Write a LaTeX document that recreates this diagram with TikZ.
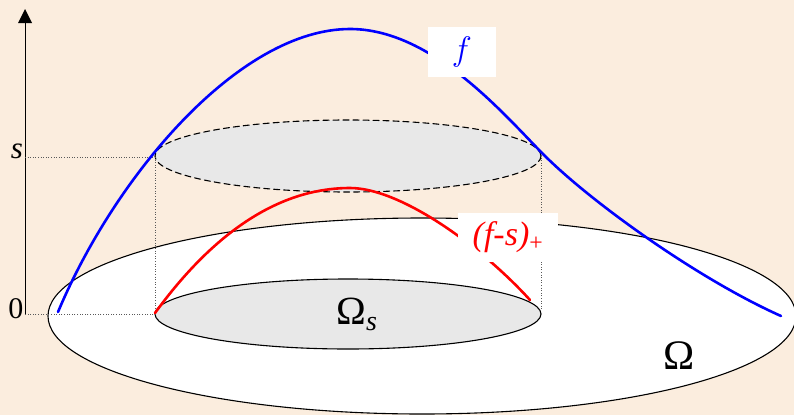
\RequirePackage{fix-cm}
\documentclass[tikz,border=0pt]{standalone}
\usepackage{fontspec}
\setmainfont{Liberation Serif}
\definecolor{paper}{RGB}{251,237,222}
\definecolor{disc}{RGB}{232,232,232}

\begin{document}
\begin{tikzpicture}[
    x=1pt,y=-1pt,
    line cap=round,
    line join=round,
    guide/.style={black!65,line width=1pt,line cap=butt,dash pattern=on 1pt off 1.6pt},
    rim/.style={black,line width=1.1pt},
    graph/.style={line width=2.6pt},
    tag/.style={fill=white,inner sep=0pt},
]
\useasboundingbox (0,0) rectangle (794,415);
\fill[paper] (0,0) rectangle (794,415);
% domain
\draw[rim,fill=white] (422,316) ellipse [x radius=374,y radius=98];
\draw[rim,fill=disc] (348,314) ellipse [x radius=193,y radius=35];
\draw[rim,fill=disc,dash pattern=on 6pt off 4pt] (348,156) ellipse [x radius=193,y radius=36];
% axes
\coordinate (o) at (25,314);
\coordinate (top) at (25,9);
\coordinate (sy) at (25,157);
\draw[line width=1pt] (o) -- (25,22);
\fill (top) -- (18,23) -- (32,23) -- cycle;
\node[font=\fontsize{30}{30}\selectfont] (zero) at (16,309) {0};
\node[font=\fontsize{31}{31}\selectfont\itshape] (slab) at (17,151) {s};
% level lines
\coordinate (sl) at (155,157);
\coordinate (sr) at (541,155);
\coordinate (bl) at (155,314);
\coordinate (br) at (541,311);
\draw[guide] (sy) -- (sl) -- (bl) -- (o);
\draw[guide] (sr) -- (br);
% f
\draw[graph,blue] (58,312) .. controls (116,174) and (240,29) .. (350,29)
  .. controls (430,29) and (500,110) .. (541,152)
  .. controls (590,202) and (700,280) .. (781,316);
% (f-s)+
\draw[graph,red] (155,313) .. controls (230,210) and (300,188) .. (350,188)
  .. controls (400,188) and (480,245) .. (530,300);
% labels
\node[tag,minimum width=68pt,minimum height=50pt] (flab) at (462,52)
  {\fontsize{34}{34}\selectfont\color{blue}$f$};
\node[tag,minimum width=100pt,minimum height=49pt] (fslab) at (508,237)
  {\fontsize{34}{34}\selectfont\color{red}\textit{(f-s)}\textsubscript{+}};
\node[font=\fontsize{40}{40}\selectfont] (oms) at (357,314) {Ω\textsubscript{\itshape s}};
\node[font=\fontsize{42}{42}\selectfont] (om) at (679,356) {Ω};
\end{tikzpicture}
\end{document}
